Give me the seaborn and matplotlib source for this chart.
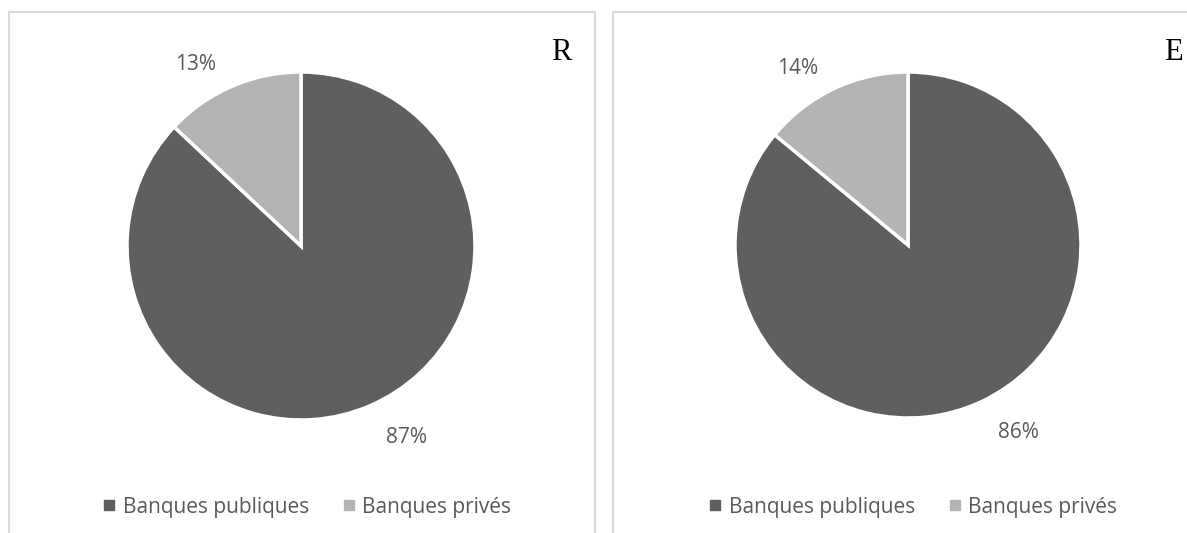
import matplotlib
matplotlib.use("Agg")
import numpy as np
import matplotlib.pyplot as plt
from matplotlib.patches import Rectangle
from matplotlib.lines import Line2D
import seaborn as sns

# Répartition des banques (en %)
categories = ["Banques publiques", "Banques privés"]
share_r = [87, 13]
share_e = [86, 14]
panel_titles = ["R", "E"]

sns.set_theme(style="white")
plt.rcParams["font.family"] = ["Open Sans", "DejaVu Sans"]

colors = ["#5f5f5f", "#b3b3b3"]
text_color = "#595959"

W, H = 1187, 533
fig = plt.figure(figsize=(W / 100, H / 100), dpi=100)
fig.patch.set_facecolor("white")

# panel frames (pixel geometry converted to figure fractions)
frames = [(9, 12, 586, 540), (613, 12, 600, 540)]
for x0, y0, w, h in frames:
    fig.patches.append(Rectangle((x0 / W, 1 - (y0 + h) / H), w / W, h / H,
                                 transform=fig.transFigure, fill=False,
                                 edgecolor="#d9d9d9", linewidth=1.5))

centers = [(301, 246, 174), (908, 245, 173)]
legend_x = [307, 913]
title_x = [561, 1173]

# data labels sit slightly counter-clockwise of the slice middle
label_turn = np.deg2rad(6)
label_drop = 0.03

for (cx, cy, r), values, title, lx, tx in zip(centers, [share_r, share_e],
                                             panel_titles, legend_x, title_x):
    ax = fig.add_axes([(cx - r) / W, (H - cy - r) / H, 2 * r / W, 2 * r / H])
    wedges, _, autotexts = ax.pie(
        values, colors=colors, startangle=90, counterclock=False,
        autopct="%1.0f%%", pctdistance=1.23,
        wedgeprops=dict(edgecolor="white", linewidth=2.5),
        textprops=dict(color=text_color, fontsize=15))
    for t in autotexts:
        x, y = t.get_position()
        c, s = np.cos(label_turn), np.sin(label_turn)
        t.set_position((x * c - y * s, x * s + y * c - label_drop))
    ax.set_xlim(-1, 1)
    ax.set_ylim(-1, 1)
    ax.set_aspect("equal")
    ax.axis("off")

    fig.text(tx / W, 1 - 53 / H, title, family="Liberation Serif",
             fontsize=22, color="black", ha="center", va="center")

    handles = [Line2D([], [], marker="s", linestyle="none", markersize=6.5,
                      markerfacecolor=c, markeredgecolor=c) for c in colors]
    fig.legend(handles, categories, loc="center", ncol=2,
               bbox_to_anchor=(lx / W, 1 - 507 / H), frameon=False,
               fontsize=15, labelcolor=text_color, handlelength=0.6,
               handletextpad=0.35, columnspacing=1.6)

fig.savefig("out.png", dpi=100, facecolor="white")
